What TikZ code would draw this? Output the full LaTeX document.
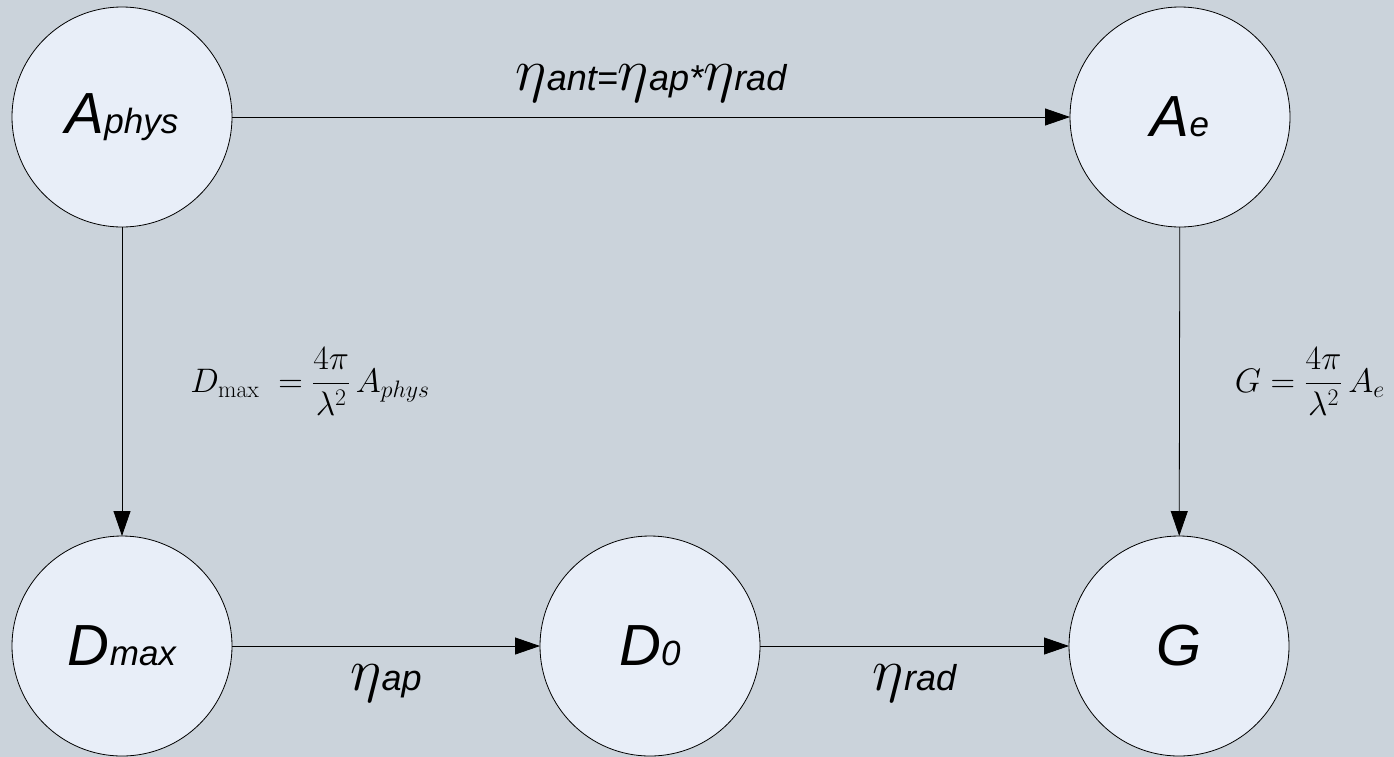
\RequirePackage{fix-cm}
\documentclass[tikz,border=0pt]{standalone}
\usepackage{amsmath}
\usepackage[no-math]{fontspec}
\setmainfont{Liberation Sans}
\usetikzlibrary{positioning,arrows.meta}
\definecolor{PaneBg}{RGB}{203,211,219}
\definecolor{DiscFill}{RGB}{232,238,248}
\newcommand{\Sub}[1]{{\fontsize{35}{40}\selectfont #1}}
\newcommand{\Eta}{{\fontsize{60}{64}\selectfont$\eta$}}
\tikzset{
  disc/.style={circle, draw=black, line width=0.8pt, fill=DiscFill, minimum size=220pt,
               inner sep=0pt, outer sep=0pt, font=\fontsize{58}{60}\selectfont\itshape},
  link/.style={-{Triangle[length=25pt,width=17pt]}, line width=0.8pt},
  rate/.style={inner sep=0pt, font=\fontsize{36}{40}\selectfont\itshape},
  law/.style={inner sep=0pt, font=\fontsize{34}{40}\selectfont},
}

\begin{document}
\begin{tikzpicture}[x=1pt,y=1pt]
  \useasboundingbox (0,0) rectangle (1394,-756);
  \fill[PaneBg] (-6,6) rectangle (1400,-762);
  % top row
  \node[disc] (aphys) at (122,-117) {A\Sub{phys}};
  \node[disc, right=838pt of aphys] (aeff) {A\Sub{e}};
  % bottom row
  \node[disc, below=309pt of aphys] (dmax) {D\Sub{max}};
  \node[disc, right=308pt of dmax] (dzero) {D\Sub{0}};
  \node[disc, right=309pt of dzero] (gain) {G};
  \draw[link] (aphys) -- node[above=14pt, rate] {\Eta ant=\Eta ap*\Eta rad} (aeff);
  \draw[link] (aphys) -- node[right=68pt, law]
    {$\displaystyle D_{\mathrm{max}}\; = \frac{4\pi}{\lambda^2}\,A_{phys}$} (dmax);
  \draw[link] (aeff) -- node[right=55pt, law]
    {$\displaystyle G = \frac{4\pi}{\lambda^2}\,A_{e}$} (gain);
  \draw[link] (dmax) -- node[below=18pt, rate] {\Eta ap} (dzero);
  \draw[link] (dzero) -- node[below=18pt, rate] {\Eta rad} (gain);
\end{tikzpicture}
\end{document}
